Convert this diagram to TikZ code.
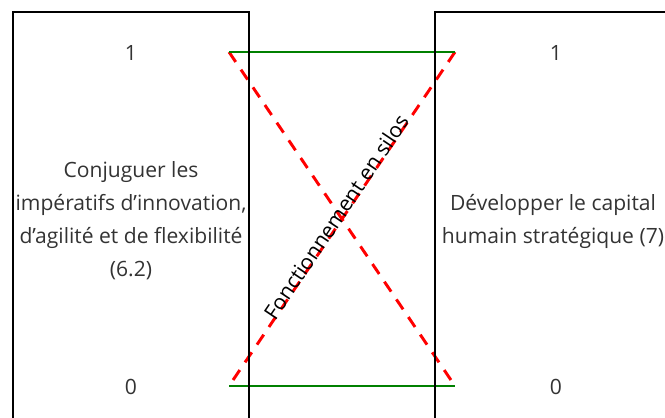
\documentclass[tikz,border=0pt]{standalone}
\usepackage{fontspec}
\setmainfont{Open Sans}
\usetikzlibrary{calc}
\definecolor{txtgray}{HTML}{333333}
\definecolor{linkgreen}{HTML}{008000}
\definecolor{linkred}{HTML}{FF0000}

\begin{document}
\begin{tikzpicture}[
  x=0.75pt,y=-0.75pt,
  font=\fontsize{15.8}{24.75}\selectfont,
  every node/.style={align=center,text=txtgray},
  silo/.style={draw=black,line width=2.2pt,minimum width=177pt,
               minimum height=313.5pt,inner sep=0pt},
  tick/.style={inner sep=1pt},
  keep/.style={draw=linkgreen,line width=2.2pt},
  cut/.style={draw=linkred,line width=2.2pt,dash pattern=on 9pt off 7pt}
]
\useasboundingbox (0,0) rectangle (665,418);
\clip (0,0) rectangle (665,418);

% end points of the links
\coordinate (lt) at (229,52);
\coordinate (rt) at (455,52);
\coordinate (lb) at (229,386);
\coordinate (rb) at (455,386);
\coordinate (mid) at ($(lt)!0.5!(rb)$);

\draw[cut] (lt) -- (rb);
\draw[cut] (rt) -- (lb);
\draw[keep] (lt) -- (rt);
\draw[keep] (lb) -- (rb);

\node[silo] (left)  at (131,221) {Conjuguer les\\ impératifs d’innovation,\\ d’agilité et de flexibilité\\ (6.2)};
\node[silo] (right) at (553,221) {Développer le capital\\ humain stratégique (7)};

\node[tick] (l1) at (131,53)  {1};
\node[tick] (l0) at (131,387) {0};
\node[tick] (r1) at (556,53)  {1};
\node[tick] (r0) at (556,387) {0};

\node[rotate=56,text=black] (silos) at ($(mid)+(-6,-2)$) {Fonctionnement en silos};
\end{tikzpicture}
\end{document}
